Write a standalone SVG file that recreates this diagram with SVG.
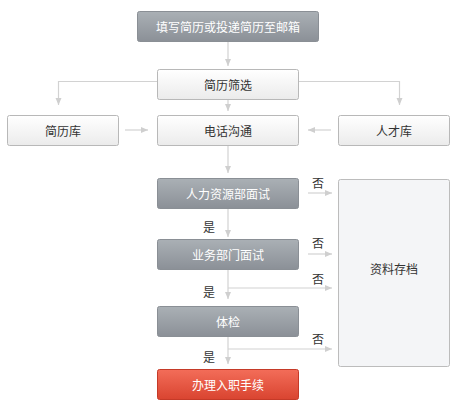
<svg xmlns="http://www.w3.org/2000/svg" width="464" height="409" viewBox="0 0 464 409">
<defs>
<linearGradient id="gGray" x1="0" y1="0" x2="0" y2="1"><stop offset="0" stop-color="#aab0b5"/><stop offset="1" stop-color="#8b9097"/></linearGradient>
<linearGradient id="gWhite" x1="0" y1="0" x2="0" y2="1"><stop offset="0" stop-color="#ffffff"/><stop offset="1" stop-color="#ebebeb"/></linearGradient>
<linearGradient id="gRed" x1="0" y1="0" x2="0" y2="1"><stop offset="0" stop-color="#f36d59"/><stop offset="1" stop-color="#d94430"/></linearGradient>
<marker id="arr" markerWidth="8" markerHeight="8" refX="7" refY="4" orient="auto" markerUnits="userSpaceOnUse"><path d="M0,1 L7,4 L0,7 Z" fill="#cfcfcf"/></marker>
</defs>
<style>
.t{font-family:"Noto Sans CJK SC","Noto Sans",sans-serif;font-size:12px;text-anchor:middle;dominant-baseline:central}
.w{fill:#ffffff}
.k{fill:#333333}
.gray{fill:url(#gGray);stroke:#8a8f95;stroke-width:1}
.white{fill:url(#gWhite);stroke:#b8b8b8;stroke-width:1}
.red{fill:url(#gRed);stroke:#c53a28;stroke-width:1}
.arch{fill:#f4f5f7;stroke:#bcbcbc;stroke-width:1}
.c{fill:none;stroke:#d2d2d2;stroke-width:1.2;marker-end:url(#arr)}
</style>
<rect width="464" height="409" fill="#ffffff"/>
<g id="connectors">
<path class="c" d="M228,41 V66"/>
<path class="c" d="M157,81.5 H58.5 V105"/>
<path class="c" d="M298,81.5 H399.5 V105"/>
<path class="c" d="M228,99 V111"/>
<path class="c" d="M125,130 H148"/>
<path class="c" d="M331,130 H308"/>
<path class="c" d="M228,145 V173"/>
<path class="c" d="M308,193 H332"/>
<path class="c" d="M228,208 V237"/>
<path class="c" d="M308,254 H332"/>
<path class="c" d="M228,269 V299"/>
<path class="c" d="M228,288 H332"/>
<path class="c" d="M228,337 V364"/>
<path class="c" d="M228,349 H332"/>
</g>
<g id="labels">
<text class="t k" x="318" y="182">否</text>
<text class="t k" x="209" y="226">是</text>
<text class="t k" x="318" y="242">否</text>
<text class="t k" x="318" y="278">否</text>
<text class="t k" x="209" y="291">是</text>
<text class="t k" x="318" y="338">否</text>
<text class="t k" x="209" y="356">是</text>
</g>
<g id="n_submit"><rect class="gray" x="137.5" y="11.5" width="181" height="30" rx="2"/><text class="t w" x="228" y="26.5">填写简历或投递简历至邮箱</text></g>
<g id="n_screen"><rect class="white" x="157.5" y="69.5" width="141" height="30" rx="2"/><text class="t k" x="228" y="84.5">简历筛选</text></g>
<g id="n_resumedb"><rect class="white" x="7.5" y="115.5" width="111" height="30" rx="2"/><text class="t k" x="63" y="130.5">简历库</text></g>
<g id="n_phone"><rect class="white" x="157.5" y="115.5" width="141" height="30" rx="2"/><text class="t k" x="228" y="130.5">电话沟通</text></g>
<g id="n_talent"><rect class="white" x="338.5" y="115.5" width="111" height="30" rx="2"/><text class="t k" x="394" y="130.5">人才库</text></g>
<g id="n_hr"><rect class="gray" x="157.5" y="178.5" width="141" height="30" rx="2"/><text class="t w" x="228" y="193.5">人力资源部面试</text></g>
<g id="n_dept"><rect class="gray" x="157.5" y="239.5" width="141" height="30" rx="2"/><text class="t w" x="228" y="254.5">业务部门面试</text></g>
<g id="n_exam"><rect class="gray" x="157.5" y="306.5" width="141" height="30" rx="2"/><text class="t w" x="228" y="321.5">体检</text></g>
<g id="n_onboard"><rect class="red" x="157.5" y="369.5" width="141" height="30" rx="2"/><text class="t w" x="228" y="384.5">办理入职手续</text></g>
<g id="n_archive"><rect class="arch" x="338.5" y="179.5" width="111" height="187" rx="2"/><text class="t k" x="394" y="268">资料存档</text></g>
</svg>
